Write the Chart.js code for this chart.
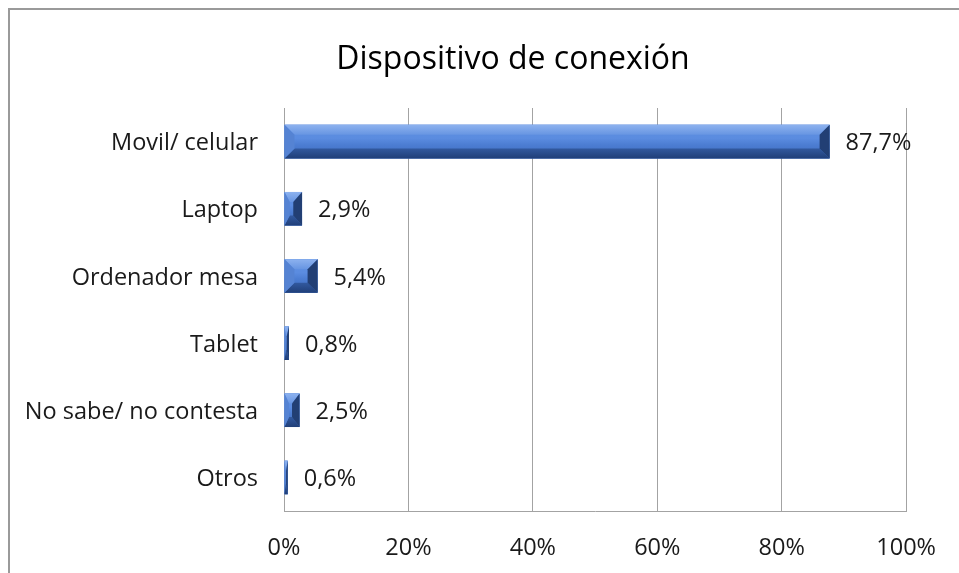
<!DOCTYPE html>
<html>
<head>
<meta charset="utf-8">
<script src="https://cdn.jsdelivr.net/npm/chart.js@4/dist/chart.umd.min.js"></script>
<style>
  html, body { margin: 0; padding: 0; background: #fff; overflow: hidden; }
  #wrap { position: relative; width: 959px; height: 573px; }
  #frame { position: absolute; left: 8px; top: 8px; width: 2000px; height: 2000px;
           border-top: 2px solid #9a9a9a; border-left: 2px solid #9a9a9a; box-sizing: border-box; }
  canvas { position: absolute; left: 0; top: 0; }
</style>
</head>
<body>
<div id="wrap">
  <div id="frame"></div>
  <canvas id="c" width="959" height="573"></canvas>
</div>
<script>
const titleText = 'Dispositivo de conexión';
const categories = ['Movil/ celular', 'Laptop', 'Ordenador mesa', 'Tablet', 'No sabe/ no contesta', 'Otros'];
const values = [87.7, 2.9, 5.4, 0.8, 2.5, 0.6];
const axisMin = 0;
const axisMax = 100;
const axisStep = 20;

const FONT = "'Open Sans', 'Noto Sans', sans-serif";

function fmt(v) { return v.toFixed(1).replace('.', ',') + '%'; }

const titlePlugin = {
  id: 'ownTitle',
  afterDraw(chart) {
    const ctx = chart.ctx;
    ctx.save();
    ctx.fillStyle = '#000';
    ctx.font = "32px " + FONT;
    ctx.textAlign = 'center';
    ctx.textBaseline = 'middle';
    ctx.fillText(titleText, 513, 60);
    ctx.restore();
  }
};

const bevelPlugin = {
  id: 'bevel',
  afterDatasetsDraw(chart) {
    const ctx = chart.ctx;
    const meta = chart.getDatasetMeta(0);
    meta.data.forEach((el, i) => {
      const p = el.getProps(['x', 'y', 'base', 'height'], true);
      const x0 = Math.min(p.base, p.x), x1 = Math.max(p.base, p.x);
      const y0 = p.y - p.height / 2, y1 = p.y + p.height / 2;
      const w = x1 - x0, h = y1 - y0;
      const b = Math.min(10, h / 2);
      const bl = Math.min(b, w * 0.3);
      const br = Math.min(b, w * 0.5);
      ctx.save();
      let g = ctx.createLinearGradient(0, y0, 0, y1);
      g.addColorStop(0, '#5c8ee0');
      g.addColorStop(0.4, '#5b8ce0');
      g.addColorStop(0.6, '#4c7dd2');
      g.addColorStop(1, '#3c69ba');
      ctx.fillStyle = g;
      ctx.fillRect(x0, y0, w, h);
      g = ctx.createLinearGradient(0, y0, 0, y0 + b);
      g.addColorStop(0, '#8db2ef');
      g.addColorStop(1, '#6795e2');
      ctx.fillStyle = g;
      ctx.beginPath();
      ctx.moveTo(x0, y0); ctx.lineTo(x1, y0); ctx.lineTo(x1 - br, y0 + b); ctx.lineTo(x0 + bl, y0 + b); ctx.closePath();
      ctx.fill();
      g = ctx.createLinearGradient(0, y1 - b, 0, y1);
      g.addColorStop(0, '#32599f');
      g.addColorStop(1, '#203f78');
      ctx.fillStyle = g;
      ctx.beginPath();
      ctx.moveTo(x0, y1); ctx.lineTo(x1, y1); ctx.lineTo(x1 - br, y1 - b); ctx.lineTo(x0 + bl, y1 - b); ctx.closePath();
      ctx.fill();
      ctx.fillStyle = '#5583d3';
      ctx.beginPath();
      ctx.moveTo(x0, y0); ctx.lineTo(x0 + bl, y0 + b); ctx.lineTo(x0 + bl, y1 - b); ctx.lineTo(x0, y1); ctx.closePath();
      ctx.fill();
      ctx.fillStyle = '#223f74';
      ctx.beginPath();
      ctx.moveTo(x1, y0); ctx.lineTo(x1 - br, y0 + b); ctx.lineTo(x1 - br, y1 - b); ctx.lineTo(x1, y1); ctx.closePath();
      ctx.fill();
      ctx.fillStyle = '#1a1a1a';
      ctx.font = "23.5px " + FONT;
      ctx.textAlign = 'left';
      ctx.textBaseline = 'middle';
      ctx.fillText(fmt(values[i]), x1 + 16, p.y + 2);
      ctx.restore();
    });
  }
};

new Chart(document.getElementById('c'), {
  type: 'bar',
  data: {
    labels: categories,
    datasets: [{
      data: values,
      backgroundColor: '#4a7acd',
      borderWidth: 0,
      barPercentage: 0.5,
      categoryPercentage: 1.0
    }]
  },
  options: {
    indexAxis: 'y',
    responsive: false,
    animation: false,
    devicePixelRatio: 1,
    layout: { padding: { left: 0, right: 45, top: 108, bottom: 0 } },
    plugins: {
      legend: { display: false },
      tooltip: { enabled: false },
      title: { display: false }
    },
    scales: {
      x: {
        min: axisMin,
        max: axisMax,
        ticks: {
          stepSize: axisStep,
          callback: v => v + '%',
          color: '#1a1a1a',
          font: { family: FONT, size: 23.5, lineHeight: 1.2 },
          padding: 23,
          maxRotation: 0
        },
        grid: { color: '#a3a3a3', lineWidth: 1, drawTicks: false, tickLength: 0 },
        border: { display: true, color: '#a3a3a3', width: 1 },
        afterFit(s) { s.height = 62; }
      },
      y: {
        ticks: {
          color: '#1a1a1a',
          font: { family: FONT, size: 23.5, lineHeight: 1.2 },
          padding: 26,
          labelOffset: 2
        },
        grid: { display: false, drawTicks: false, tickLength: 0 },
        border: { display: true, color: '#a3a3a3', width: 1 },
        afterFit(s) { s.width = 284; }
      }
    }
  },
  plugins: [bevelPlugin, titlePlugin]
});
</script>
</body>
</html>
